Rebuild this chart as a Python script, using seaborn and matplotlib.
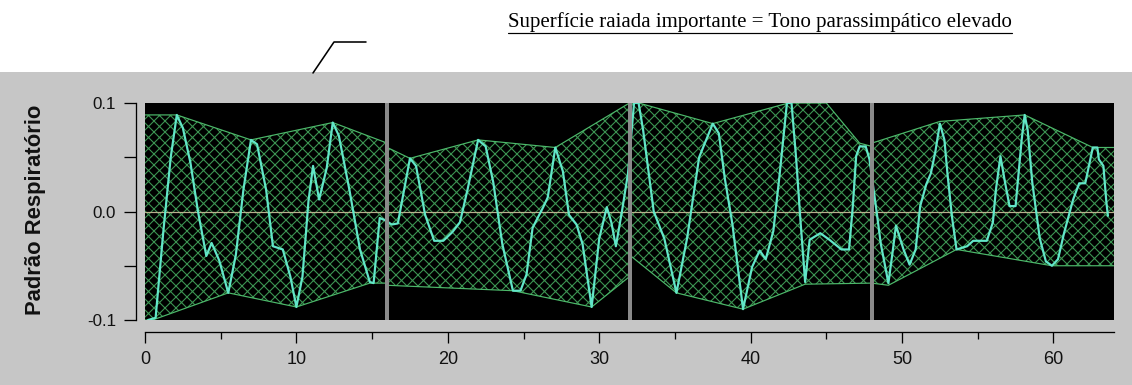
import numpy as np
import matplotlib
matplotlib.use('Agg')
import matplotlib.pyplot as plt
from matplotlib.lines import Line2D
from matplotlib.patches import Rectangle, Polygon
from matplotlib.ticker import FixedLocator, FormatStrFormatter
import seaborn as sns

# ── DATA ───────────────────────────────────────────────────────
title_text = 'Superfície raiada importante = Tono parassimpático elevado'
y_label    = 'Padrão Respiratório'

# respiratory signal (time, value)
sig_t = [0.2, 0.7, 1.2, 1.7, 2.1, 2.5, 3.0, 3.5, 4.05, 4.4, 4.9, 5.5, 6.0, 6.5,
         7.0, 7.4, 8.0, 8.45, 9.1, 9.6, 10.0, 10.4, 10.8, 11.1, 11.5, 12.0,
         12.4, 12.8, 13.5, 14.2, 14.85, 15.1, 15.5, 15.85,
         16.3, 16.7, 17.5, 17.9, 18.5, 19.1, 19.7, 20.3, 20.8, 21.3, 22.0,
         22.5, 23.0, 23.6, 24.3, 24.8, 25.2, 25.6, 26.3, 26.6, 27.1, 27.6,
         28.0, 28.5, 28.9, 29.5, 30.0, 30.5, 30.8, 31.1, 31.5, 31.9,
         32.3, 32.6, 32.9, 33.6, 34.3, 35.1, 35.8, 36.6, 37.5, 37.9, 38.3,
         38.8, 39.5, 40.1, 40.6, 41.0, 41.5, 41.9, 42.4, 42.7, 43.0, 43.3,
         43.6, 43.9, 44.6, 45.2, 46.0, 46.5, 46.75, 46.97, 47.2, 47.6, 47.85,
         48.3, 48.6, 49.1, 49.4, 49.6, 50.1, 50.5, 50.9, 51.2, 51.6, 51.9,
         52.2, 52.5, 52.8, 53.0, 53.3, 53.6, 54.3, 54.7, 55.6, 56.0, 56.2,
         56.5, 56.8, 57.1, 57.5, 57.7, 57.9, 58.1, 58.3, 58.6, 59.1, 59.5,
         59.9, 60.3, 60.7, 61.3, 61.7, 62.1, 62.6, 62.9, 63.0, 63.3, 63.5,
         63.6]
sig_v = [-0.100, -0.098, -0.020, 0.050, 0.089, 0.077, 0.045, 0.000, -0.041,
         -0.029, -0.045, -0.075, -0.040, 0.020, 0.066, 0.062, 0.020, -0.032,
         -0.035, -0.060, -0.088, -0.060, 0.010, 0.042, 0.011, 0.040, 0.082,
         0.070, 0.020, -0.035, -0.065, -0.066, -0.006, -0.008,
         -0.012, -0.011, 0.049, 0.042, -0.003, -0.027, -0.027, -0.019, -0.010,
         0.020, 0.066, 0.060, 0.027, -0.030, -0.073, -0.073, -0.058, -0.015,
         0.004, 0.013, 0.059, 0.037, -0.003, -0.012, -0.030, -0.088, -0.025,
         0.004, -0.010, -0.032, 0.000, 0.035,
         0.100, 0.100, 0.075, 0.000, -0.025, -0.075, -0.025, 0.050, 0.081,
         0.072, 0.030, -0.012, -0.090, -0.051, -0.036, -0.044, -0.018, 0.032,
         0.100, 0.100, 0.050, -0.010, -0.065, -0.026, -0.020, -0.026, -0.035,
         -0.035, 0.005, 0.051, 0.060, 0.060, 0.048,
         0.002, -0.030, -0.066, -0.035, -0.013, -0.035, -0.049, -0.035, 0.005,
         0.025, 0.035, 0.055, 0.081, 0.066, 0.035, -0.005, -0.035, -0.032,
         -0.027, -0.027, -0.010, 0.020, 0.051, 0.027, 0.005, 0.005, 0.035,
         0.066, 0.089, 0.075, 0.027, -0.025, -0.046, -0.050, -0.044, -0.020,
         0.011, 0.026, 0.026, 0.059, 0.059, 0.048, 0.042, 0.008, -0.004]

# envelopes for the four 16 s windows
env_up_t = [[0.0, 2.1, 7.0, 12.4, 16.0],
            [16.0, 17.5, 22.0, 27.1, 32.0],
            [32.0, 32.6, 37.5, 42.5, 45.0, 47.2, 48.0],
            [48.0, 52.5, 58.1, 62.6, 64.0]]
env_up_v = [[0.089, 0.089, 0.066, 0.082, 0.063],
            [0.059, 0.049, 0.066, 0.059, 0.100],
            [0.100, 0.100, 0.081, 0.100, 0.100, 0.063, 0.060],
            [0.063, 0.083, 0.089, 0.059, 0.059]]
env_lo_t = [[0.0, 0.5, 5.5, 10.0, 14.85, 16.0],
            [16.0, 24.3, 29.5, 32.0],
            [32.0, 35.1, 39.5, 43.6, 48.0],
            [48.0, 49.1, 53.6, 59.9, 64.0]]
env_lo_v = [[-0.100, -0.100, -0.075, -0.088, -0.066, -0.066],
            [-0.068, -0.073, -0.088, -0.060],
            [-0.040, -0.075, -0.090, -0.067, -0.066],
            [-0.066, -0.068, -0.035, -0.050, -0.050]]

window_edges = [16, 32, 48]
x_ticks      = [0, 10, 20, 30, 40, 50, 60]
y_ticks      = [-0.1, 0.0, 0.1]

# ── STYLE ──────────────────────────────────────────────────────
DPI = 132
W, H = 1132, 385
PT = 72.0 / DPI          # one pixel in points

sns.set_theme(style='ticks')
plt.rcParams['font.family'] = ['Liberation Sans', 'DejaVu Sans']
plt.rcParams['axes.unicode_minus'] = False
plt.rcParams['hatch.linewidth'] = 1.1 * PT

GRAY_BG  = '#c6c6c6'
HATCH    = '#3c9452'
EDGE     = '#4cb86a'
SIGNAL   = '#62e6c8'
ZERO     = '#b8b08c'
SEP      = '#8a8a8a'

fig = plt.figure(figsize=(W / DPI, H / DPI), dpi=DPI, facecolor='white')
fig.patches.append(Rectangle((0, 0), 1, (H - 72) / H, transform=fig.transFigure,
                             facecolor=GRAY_BG, edgecolor='none', zorder=-10))

ax = fig.add_axes([145 / W, (H - 320) / H, 969 / W, 217 / H])
ax.set_zorder(1)
ax.set_facecolor('black')

# hatched envelopes
for ut, uv, lt, lv in zip(env_up_t, env_up_v, env_lo_t, env_lo_v):
    poly = list(zip(ut, uv)) + list(zip(lt[::-1], lv[::-1]))
    ax.add_patch(Polygon(poly, closed=True, facecolor='none', edgecolor=HATCH,
                         hatch='xxxx', linewidth=0, zorder=1))
    ax.plot(ut, uv, color=EDGE, lw=1.2 * PT, zorder=2)
    ax.plot(lt, lv, color=EDGE, lw=1.2 * PT, zorder=2)

ax.axhline(0, color=ZERO, lw=1.2 * PT, zorder=2)

sns.lineplot(x=sig_t, y=sig_v, sort=False, estimator=None, ax=ax,
             color=SIGNAL, lw=2.2 * PT, zorder=3)

for xe in window_edges:
    ax.axvline(xe, color=SEP, lw=4 * PT, zorder=4)

ax.set_xlim(0, 64)
ax.set_ylim(-0.1, 0.1)

# axes decoration
for s in ['top', 'right']:
    ax.spines[s].set_visible(False)
ax.spines['left'].set_position(('outward', 9 * PT))
ax.spines['bottom'].set_position(('outward', 12 * PT))
for s in ['left', 'bottom']:
    ax.spines[s].set_color('black')
    ax.spines[s].set_linewidth(1.3 * PT)

ax.xaxis.set_major_locator(FixedLocator(x_ticks))
ax.xaxis.set_minor_locator(FixedLocator([5, 15, 25, 35, 45, 55]))
ax.yaxis.set_major_locator(FixedLocator(y_ticks))
ax.yaxis.set_minor_locator(FixedLocator([-0.05, 0.05]))
ax.yaxis.set_major_formatter(FormatStrFormatter('%.1f'))

ax.tick_params(axis='x', which='major', direction='out', length=11 * PT,
               width=1.3 * PT, color='black', pad=8 * PT, labelsize=18 * PT)
ax.tick_params(axis='x', which='minor', direction='out', length=7 * PT,
               width=1.3 * PT, color='black')
ax.tick_params(axis='y', which='both', direction='out', length=12 * PT,
               width=1.3 * PT, color='black', pad=8 * PT, labelsize=17 * PT)
for lab in ax.get_xticklabels() + ax.get_yticklabels():
    lab.set_color('#111111')
ax.set_xlabel('')
ax.set_ylabel('')

fig.text(36 / W, 1 - 210 / H, y_label, rotation=90, ha='center', va='center',
         fontsize=22 * PT, fontweight='bold', color='#111111')

# title with underline and leader line
title = fig.text(508 / W, 1 - 27 / H, title_text, ha='left', va='baseline',
                 fontsize=20.9 * PT, family=['Liberation Serif', 'DejaVu Serif'],
                 color='black')
fig.canvas.draw()
bb = title.get_window_extent()
uy = 1 - 33 / H
fig.add_artist(Line2D([bb.x0 / W, bb.x1 / W], [uy, uy], color='black',
                      lw=1.2 * PT, transform=fig.transFigure))
fig.add_artist(Line2D([313 / W, 334 / W, 366 / W],
                      [1 - 73 / H, 1 - 42 / H, 1 - 42 / H], color='black',
                      lw=1.6 * PT, transform=fig.transFigure, zorder=5))

fig.savefig('out.png', dpi=DPI, facecolor='white')
